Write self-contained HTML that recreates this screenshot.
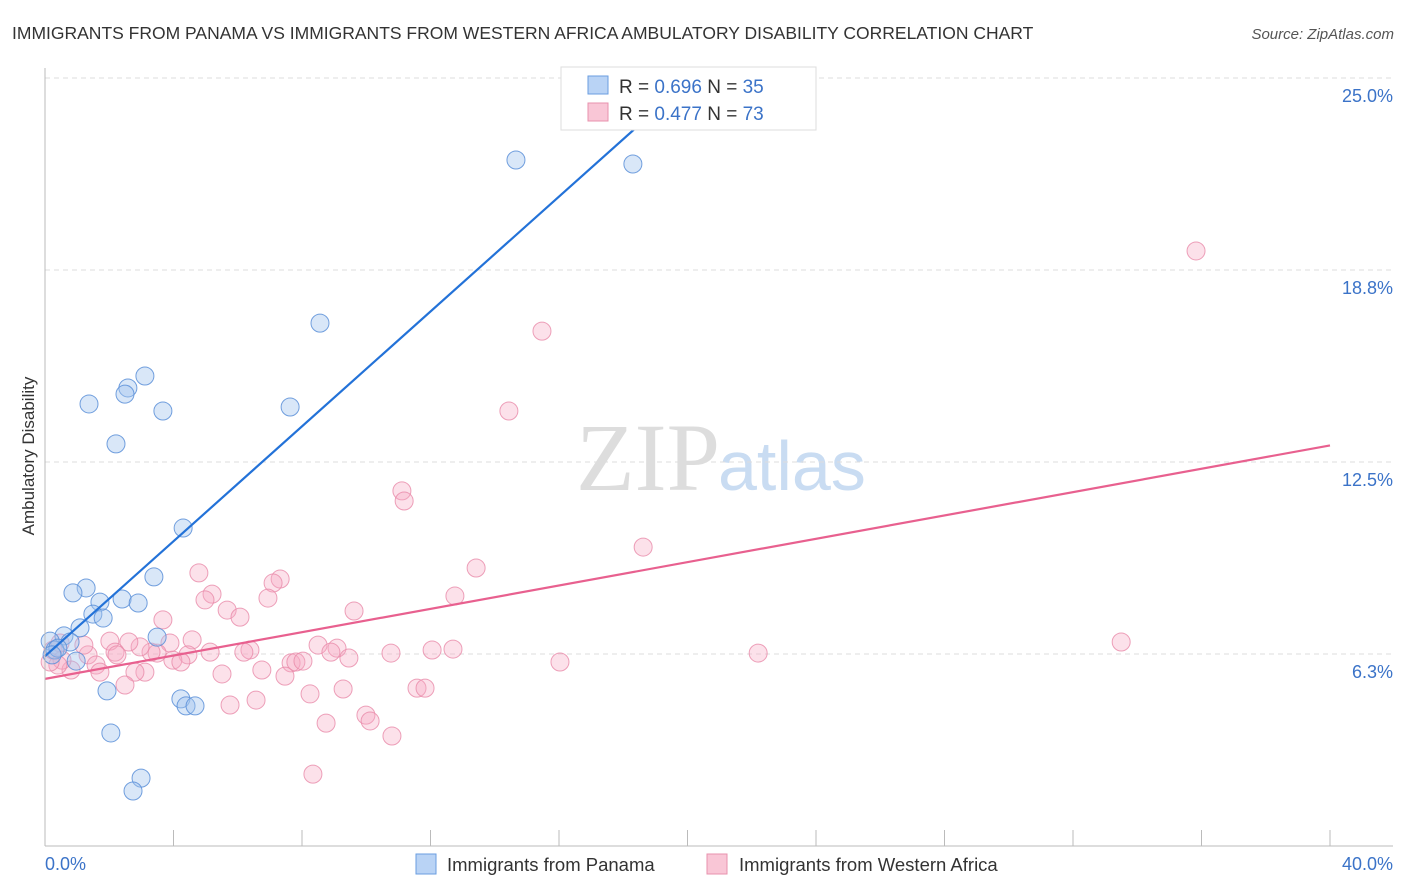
<!DOCTYPE html>
<html><head><meta charset="utf-8"><style>
body{margin:0;background:#fff;font-family:"Liberation Sans",sans-serif;}
</style></head><body>
<svg id="chart" width="1406" height="892" xmlns="http://www.w3.org/2000/svg" style="display:block">
<text x="12" y="39" font-size="17.5" fill="#333">IMMIGRANTS FROM PANAMA VS IMMIGRANTS FROM WESTERN AFRICA AMBULATORY DISABILITY CORRELATION CHART</text>
<text x="1394" y="39" font-size="15" fill="#555" text-anchor="end" font-style="italic">Source: ZipAtlas.com</text>
<text x="720" y="490" font-size="96" text-anchor="end" fill="#ddd" font-family="Liberation Serif, serif">ZIP</text>
<text x="718" y="490" font-size="70" fill="#c9dcf2">atlas</text>
<text transform="translate(34,456) rotate(-90)" font-size="17" fill="#333" text-anchor="middle">Ambulatory Disability</text>
<g id="grid"></g><g id="ticks"></g><g id="pts"></g><g id="lines"></g>
<line x1="45" y1="68" x2="45" y2="846" stroke="#bbb"/>
<line x1="45" y1="846" x2="1393" y2="846" stroke="#bbb"/>
<g>
<rect x="561" y="67" width="255" height="63" fill="#fff" stroke="#ddd"/>
<rect x="588" y="76" width="20" height="18" fill="#b9d3f5" stroke="#6a9ee0"/>
<rect x="588" y="103" width="20" height="18" fill="#f9c6d6" stroke="#e892ad"/>
<text x="619" y="93" font-size="19" fill="#333">R = <tspan fill="#3b73c8">0.696</tspan>   N = <tspan fill="#3b73c8">35</tspan></text>
<text x="619" y="120" font-size="19" fill="#333">R = <tspan fill="#3b73c8">0.477</tspan>   N = <tspan fill="#3b73c8">73</tspan></text>
</g>
<g>
<rect x="416" y="854" width="20" height="20" fill="#b9d3f5" stroke="#6a9ee0"/>
<text x="447" y="871" font-size="18.5" fill="#333">Immigrants from Panama</text>
<rect x="707" y="854" width="20" height="20" fill="#f9c6d6" stroke="#e892ad"/>
<text x="739" y="871" font-size="18.5" fill="#333">Immigrants from Western Africa</text>
</g>
<text x="45" y="870" font-size="18" fill="#3b73c8">0.0%</text>
<text x="1393" y="870" font-size="18" fill="#3b73c8" text-anchor="end">40.0%</text>
</svg>
<script>
const yTicks=[6.25,12.5,18.75,25];
const yTickLabels=["6.3%","12.5%","18.8%","25.0%"];
const xTicks=[0,4,8,12,16,20,24,28,32,36,40];
const panamaX=[14.66,18.30,8.56,3.11,2.58,2.49,1.37,3.67,7.63,2.21,4.30,3.39,1.28,0.87,1.71,2.40,2.90,1.49,1.81,1.09,0.59,3.49,0.16,0.78,0.31,0.40,0.97,1.93,4.23,4.39,4.67,2.05,2.99,2.74,0.22];
const panamaY=[22.33,22.20,17.02,15.30,14.91,14.71,14.39,14.16,14.29,13.09,10.35,8.76,8.40,8.24,7.94,8.04,7.91,7.55,7.42,7.10,6.84,6.80,6.67,6.64,6.38,6.44,6.02,5.05,4.79,4.56,4.56,3.68,2.21,1.79,6.22];
const wafX=[35.83,15.47,14.44,11.11,11.18,18.62,13.42,4.79,7.32,7.10,5.20,4.98,6.94,12.76,9.62,5.67,6.07,3.67,33.50,22.20,16.03,12.05,12.70,10.77,9.09,8.50,8.90,9.46,6.38,6.19,5.14,4.58,4.45,3.98,4.23,3.89,3.49,3.30,2.96,2.61,2.02,2.18,2.24,1.34,1.59,1.71,0.81,1.21,0.53,0.40,0.16,3.11,2.80,2.49,5.51,6.75,7.66,7.81,8.03,7.47,8.25,9.28,11.58,11.83,5.76,6.57,8.75,9.99,10.12,10.80,8.34,0.25,0.47];
const wafY=[19.37,16.76,14.16,11.56,11.23,9.73,9.05,8.89,8.69,8.56,8.20,8.01,8.07,8.14,7.65,7.68,7.45,7.36,6.64,6.28,5.99,6.38,6.41,6.28,6.44,6.54,6.31,6.12,6.38,6.31,6.31,6.71,6.22,6.05,5.99,6.61,6.28,6.31,6.48,6.64,6.67,6.31,6.22,6.22,5.89,5.66,5.73,6.54,6.05,5.89,5.99,5.66,5.66,5.24,5.60,5.73,5.96,5.99,6.02,5.53,4.95,5.11,5.14,5.14,4.59,4.75,4.00,4.26,4.07,3.58,2.34,6.38,6.61];
const panamaTrend=[6.18,0.935,20.1]; // intercept, slope, xEnd
const wafTrend=[5.44,0.19,40];
const NS="http://www.w3.org/2000/svg";
const X=v=>45+v/40*1285, Y=v=>846-v/25*768;
function mk(tag,attrs,parent){const e=document.createElementNS(NS,tag);for(const k in attrs)e.setAttribute(k,attrs[k]);parent.appendChild(e);return e;}
const grid=document.getElementById('grid');
yTicks.forEach((t,i)=>{
  const l=mk('line',{x1:45,x2:1393,y1:Y(t),y2:Y(t),stroke:'#ddd','stroke-dasharray':'5,4'},grid);
  
  
  const tx=mk('text',{x:1393,y:Y(t)+24,'font-size':18,fill:'#3b73c8','text-anchor':'end'},grid);
  tx.textContent=yTickLabels[i];
  
  
});
const ticks=document.getElementById('ticks');
xTicks.forEach(t=>{
  const l=mk('line',{x1:X(t),x2:X(t),y1:830,y2:846,stroke:'#bbb'},ticks);
  
  
});
const pts=document.getElementById('pts');
wafX.forEach((x,i)=>{
  const c=mk('circle',{cx:X(x),cy:Y(wafY[i]),r:9,fill:'#f5a9c2','fill-opacity':0.35,stroke:'#e88aa9','stroke-opacity':0.8},pts);
  
  
});
panamaX.forEach((x,i)=>{
  const c=mk('circle',{cx:X(x),cy:Y(panamaY[i]),r:9,fill:'#9fc2ee','fill-opacity':0.4,stroke:'#5a8fd8','stroke-opacity':0.85},pts);
  
  
});
const lines=document.getElementById('lines');
const lb=mk('line',{x1:X(0),y1:Y(panamaTrend[0]),x2:X(panamaTrend[2]),y2:Y(panamaTrend[0]+panamaTrend[1]*panamaTrend[2]),stroke:'#2372d8','stroke-width':2.2},lines);


const lp=mk('line',{x1:X(0),y1:Y(wafTrend[0]),x2:X(wafTrend[2]),y2:Y(wafTrend[0]+wafTrend[1]*wafTrend[2]),stroke:'#e8608f','stroke-width':2.2},lines);


</script>
</body></html>
